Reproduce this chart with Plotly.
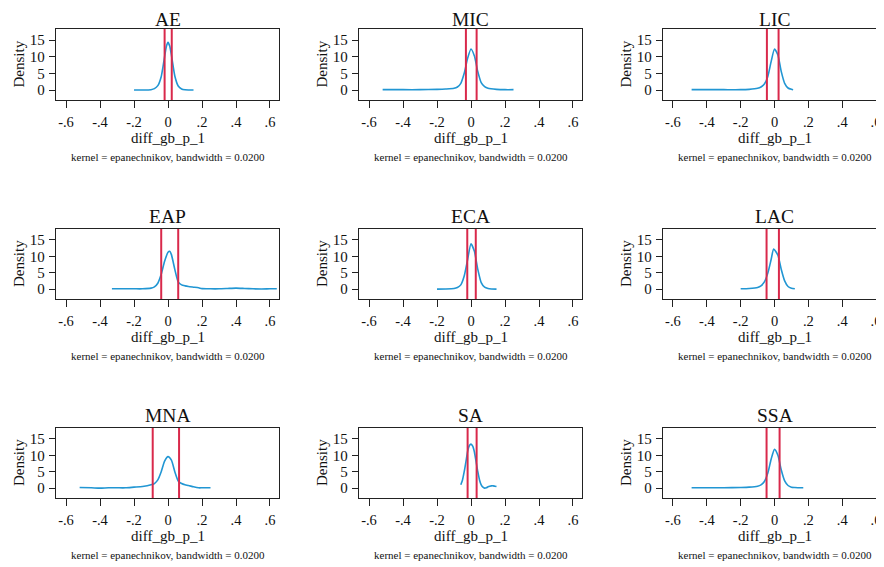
import plotly.graph_objects as go

# The page body has an 8px margin, so the figure is placed 8px right/down.
OFF = 8
W, H = 884 - OFF, 567 - OFF

regions = ["AE", "MIC", "LIC", "EAP", "ECA", "LAC", "MNA", "SA", "SSA"]

ae_x = [-0.20, -0.15, -0.10, -0.08, -0.06, -0.04, -0.03, -0.02, -0.01, 0.0, 0.01, 0.02, 0.03, 0.04, 0.06, 0.08, 0.10, 0.12, 0.15]
ae_y = [0.0, 0.0, 0.1, 0.4, 1.3, 4.0, 6.8, 10.0, 13.0, 14.3, 13.2, 10.5, 7.2, 4.2, 1.2, 0.3, 0.05, 0.0, 0.0]

mic_x = [-0.52, -0.45, -0.40, -0.30, -0.20, -0.15, -0.10, -0.08, -0.06, -0.04, -0.02, 0.0, 0.02, 0.04, 0.06, 0.08, 0.10, 0.15, 0.20, 0.25]
mic_y = [0.1, 0.1, 0.1, 0.1, 0.2, 0.3, 0.5, 0.9, 2.0, 5.0, 9.5, 12.3, 10.2, 5.5, 2.2, 1.0, 0.5, 0.2, 0.1, 0.1]

lic_x = [-0.49, -0.40, -0.30, -0.20, -0.15, -0.10, -0.08, -0.06, -0.04, -0.02, 0.0, 0.02, 0.04, 0.06, 0.08, 0.10, 0.11]
lic_y = [0.1, 0.1, 0.1, 0.1, 0.2, 0.5, 0.9, 1.8, 4.0, 8.5, 12.3, 10.5, 5.5, 2.0, 0.6, 0.2, 0.1]

eap_x = [-0.33, -0.25, -0.20, -0.15, -0.10, -0.08, -0.06, -0.04, -0.02, 0.0, 0.01, 0.02, 0.04, 0.06, 0.08, 0.10, 0.12, 0.15, 0.18, 0.20, 0.25, 0.30, 0.35, 0.40, 0.45, 0.50, 0.55, 0.60, 0.64]
eap_y = [0.1, 0.1, 0.1, 0.1, 0.3, 0.7, 1.8, 4.5, 8.5, 11.2, 11.5, 10.5, 6.0, 2.2, 1.3, 1.0, 0.8, 0.6, 0.4, 0.15, 0.1, 0.1, 0.2, 0.3, 0.2, 0.1, 0.05, 0.1, 0.1]

eca_x = [-0.20, -0.15, -0.10, -0.08, -0.06, -0.04, -0.02, 0.0, 0.02, 0.04, 0.06, 0.08, 0.10, 0.12, 0.15]
eca_y = [0.0, 0.05, 0.2, 0.5, 1.3, 4.0, 9.0, 13.8, 11.5, 6.0, 2.0, 0.6, 0.2, 0.05, 0.0]

lac_x = [-0.20, -0.15, -0.10, -0.08, -0.06, -0.04, -0.02, -0.005, 0.02, 0.04, 0.06, 0.08, 0.10, 0.12]
lac_y = [0.1, 0.2, 0.5, 1.0, 2.2, 4.8, 9.0, 12.2, 10.3, 6.0, 2.5, 0.8, 0.3, 0.1]

mna_x = [-0.52, -0.45, -0.40, -0.35, -0.30, -0.25, -0.20, -0.15, -0.10, -0.08, -0.06, -0.04, -0.02, 0.0, 0.02, 0.04, 0.06, 0.08, 0.10, 0.12, 0.15, 0.18, 0.20, 0.25]
mna_y = [0.2, 0.1, 0.0, 0.1, 0.1, 0.1, 0.3, 0.5, 1.0, 1.4, 2.5, 5.0, 8.2, 9.6, 8.5, 5.0, 2.2, 1.4, 1.0, 0.8, 0.4, 0.1, 0.1, 0.1]

sa_x = [-0.06, -0.05, -0.04, -0.03, -0.02, -0.01, 0.0, 0.01, 0.02, 0.03, 0.04, 0.05, 0.06, 0.07, 0.08, 0.09, 0.10, 0.11, 0.12, 0.13, 0.14, 0.15]
sa_y = [1.0, 2.5, 5.0, 8.0, 11.2, 12.9, 13.4, 12.8, 11.0, 8.0, 5.0, 2.5, 1.0, 0.3, 0.0, 0.1, 0.4, 0.6, 0.7, 0.7, 0.6, 0.5]

ssa_x = [-0.49, -0.40, -0.30, -0.20, -0.15, -0.10, -0.08, -0.06, -0.04, -0.02, 0.0, 0.02, 0.04, 0.06, 0.08, 0.10, 0.12, 0.15, 0.17]
ssa_y = [0.1, 0.1, 0.1, 0.2, 0.3, 0.6, 1.0, 2.0, 4.5, 8.8, 11.8, 10.0, 5.5, 2.2, 0.8, 0.3, 0.2, 0.1, 0.1]

curves_x = [ae_x, mic_x, lic_x, eap_x, eca_x, lac_x, mna_x, sa_x, ssa_x]
curves_y = [ae_y, mic_y, lic_y, eap_y, eca_y, lac_y, mna_y, sa_y, ssa_y]

lower_line = [-0.020, -0.030, -0.045, -0.040, -0.022, -0.047, -0.090, -0.020, -0.047]
upper_line = [0.022, 0.033, 0.024, 0.060, 0.028, 0.026, 0.065, 0.033, 0.030]

x_tickvals = [-0.6, -0.4, -0.2, 0, 0.2, 0.4, 0.6]
x_ticktext = ["-.6", "-.4", "-.2", "0", ".2", ".4", ".6"]
y_tickvals = [0, 5, 10, 15]

x_title = "diff_gb_p_1"
y_title = "Density"
note = "kernel = epanechnikov, bandwidth = 0.0200"

BLUE = "#2196d3"
RED = "#d9294b"
FRAME = "#222222"
FONT = "Liberation Serif"

# geometry in screenshot pixels
col_left = [56, 359, 663]
col_right = [279, 582, 884]
box_w = 223
row_top = [29, 229, 428]
row_bot = [100, 299, 498]
title_gap = [10, 13, 13]
col_xrange = [[-0.659, 0.653], [-0.659, 0.653], [-0.659, 0.647]]
y_range = [-3.0, 18.3]


def px_x(p):
    return (p - OFF) / W


def px_y(p):
    return 1 - (p - OFF) / H


fig = go.Figure()
layout = {}
annotations = []
shapes = []

for i, name in enumerate(regions):
    r, c = divmod(i, 3)
    n = i + 1
    xa = "x" if n == 1 else f"x{n}"
    ya = "y" if n == 1 else f"y{n}"
    fig.add_trace(go.Scatter(x=curves_x[i], y=curves_y[i], mode="lines",
                             line=dict(color=BLUE, width=1.6, shape="spline", smoothing=0.6),
                             xaxis=xa, yaxis=ya, showlegend=False, hoverinfo="skip"))
    for v in (lower_line[i], upper_line[i]):
        shapes.append(dict(type="line", xref=xa, yref=f"{ya} domain", x0=v, x1=v, y0=0, y1=1,
                           line=dict(color=RED, width=2)))
    layout["xaxis" if n == 1 else f"xaxis{n}"] = dict(
        domain=[px_x(col_left[c]), min(1.0, px_x(col_right[c]))], anchor=ya, range=col_xrange[c],
        tickvals=x_tickvals, ticktext=x_ticktext, ticks="outside", ticklen=7, tickwidth=1,
        tickcolor=FRAME, showline=True, linecolor=FRAME, linewidth=1.3, mirror=True,
        showgrid=False, zeroline=False, ticklabelstandoff=1,
        tickfont=dict(family=FONT, size=14.5, color="#111"), fixedrange=True)
    layout["yaxis" if n == 1 else f"yaxis{n}"] = dict(
        domain=[px_y(row_bot[r]), px_y(row_top[r])], anchor=xa, range=y_range,
        tickvals=y_tickvals, ticks="outside", ticklen=6, tickwidth=1, tickcolor=FRAME,
        showline=True, linecolor=FRAME, linewidth=1.3, mirror=(c < 2),
        showgrid=False, zeroline=False, ticklabelstandoff=1,
        tickfont=dict(family=FONT, size=15, color="#111"), fixedrange=True)
    cx = px_x(col_left[c] + box_w / 2)
    annotations.append(dict(text=name, x=cx, y=px_y(row_top[r] - title_gap[r]), xref="paper", yref="paper",
                            xanchor="center", yanchor="middle", showarrow=False,
                            font=dict(family=FONT, size=19.5, color="#111")))
    annotations.append(dict(text=x_title, x=cx, y=px_y(row_bot[r] + 38), xref="paper", yref="paper",
                            xanchor="center", yanchor="middle", showarrow=False,
                            font=dict(family=FONT, size=15, color="#111")))
    annotations.append(dict(text=note, x=cx, y=px_y(row_bot[r] + 57), xref="paper", yref="paper",
                            xanchor="center", yanchor="middle", showarrow=False,
                            font=dict(family=FONT, size=11, color="#111")))
    annotations.append(dict(text=y_title, x=px_x(col_left[c] - 37), y=px_y((row_top[r] + row_bot[r]) / 2),
                            xref="paper", yref="paper", textangle=-90,
                            xanchor="center", yanchor="middle", showarrow=False,
                            font=dict(family=FONT, size=15, color="#111")))

fig.update_layout(width=W, height=H, margin=dict(l=0, r=0, t=0, b=0),
                  paper_bgcolor="white", plot_bgcolor="white",
                  annotations=annotations, shapes=shapes, **layout)

fig.write_html("out.html")
